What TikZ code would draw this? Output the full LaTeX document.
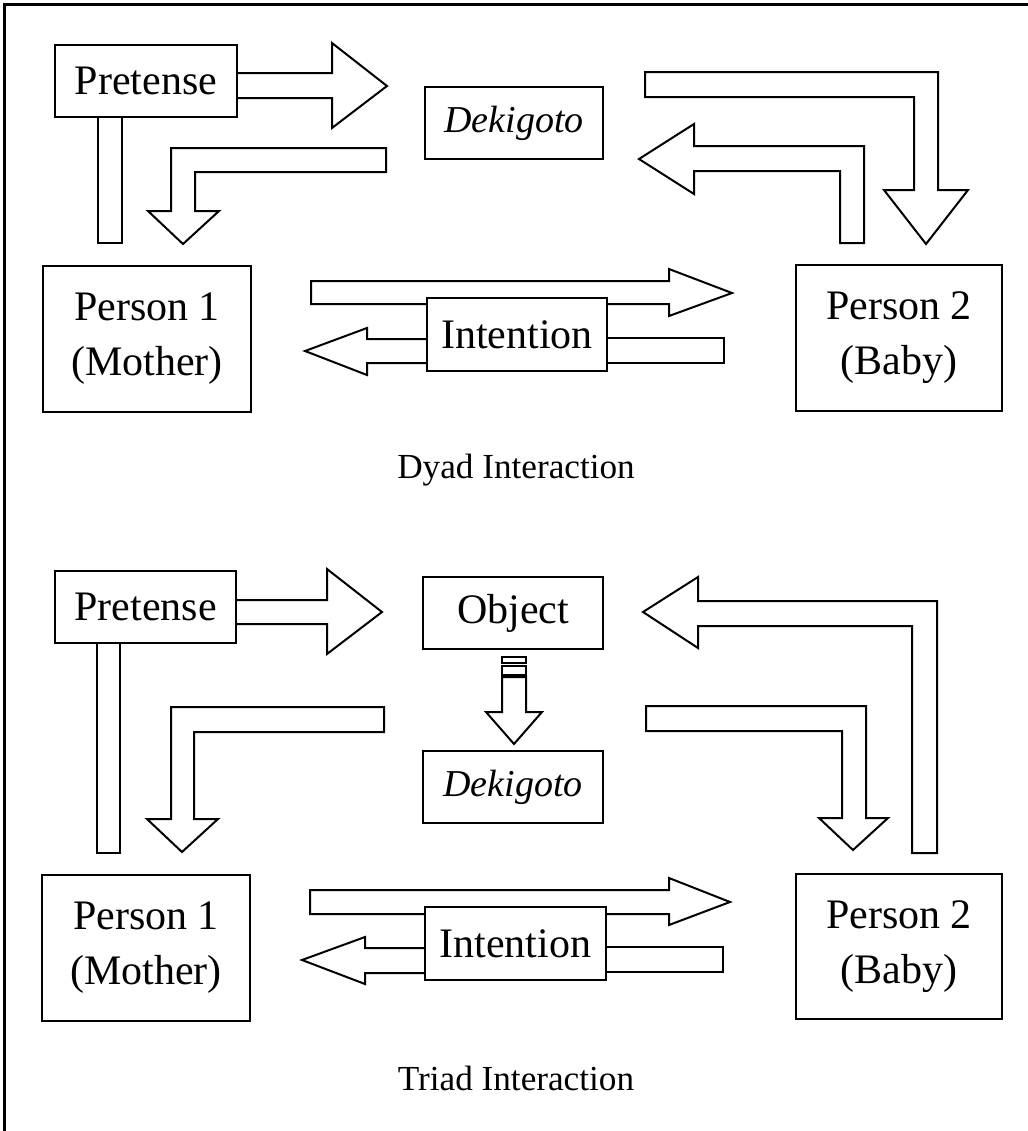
\documentclass[tikz,border=0pt]{standalone}
\usepackage{fontspec}
\setmainfont{Liberation Serif}
\usepackage{tikz}
\usetikzlibrary{calc, positioning}

\begin{document}
\begin{tikzpicture}[
  x=0.5pt, y=-0.5pt,
  box/.style={
    draw,
    fill=white,
    line width=1pt,
    inner sep=0pt,
    align=center,
    font=\fontsize{21}{27.5}\selectfont
    },
  blockarrow/.style={
    draw,
    fill=white,
    line width=1pt,
    line join=miter
    },
  caption/.style={font=\fontsize{17.6}{20}\selectfont}
]
\useasboundingbox (0,0) rectangle (1028,1131);

      % Frame
      \draw[line width=1.2pt] (4.5,1131) -- (4.5,4.5) -- (1028,4.5);

      % Dyad: block arrows
      \draw[blockarrow] (237,73) -- (332,73) -- (332,43) -- (387,86) -- (332,128) -- (332,98) -- (237,98);
      \draw[blockarrow] (98,117) rectangle (122,243);
      \draw[blockarrow] (386,148) -- (171,148) -- (171,211) -- (148,211) -- (183,244) -- (219,211) -- (195,211) -- (195,172) -- (386,172) -- cycle;
      \draw[blockarrow] (645,72) -- (938,72) -- (938,190) -- (968,190) -- (926,244) -- (884,190) -- (914,190) -- (914,97) -- (645,97) -- cycle;
      \draw[blockarrow] (864,243) -- (864,146) -- (694,146) -- (694,124) -- (639,159) -- (694,194) -- (694,171) -- (840,171) -- (840,243) -- cycle;
      \draw[blockarrow] (311,281) -- (669,281) -- (669,269) -- (732,293) -- (669,316) -- (669,304) -- (311,304) -- cycle;
      \draw[blockarrow] (427,339) -- (367,339) -- (367,328) -- (305,351) -- (367,375) -- (367,363) -- (427,363);
      \draw[blockarrow] (600,338) rectangle (724,363);

      % Dyad: boxes
      \node[box, minimum width=91pt, minimum height=36pt] (pre1) at (146,81) {Pretense};
      \node[box, minimum width=89pt, minimum height=36pt, font=\fontsize{19}{24}\selectfont\itshape] (dek1) at (514,123) {Dekigoto};
      \node[box, minimum width=104pt, minimum height=73pt] (per1a) at (147,339) {Person 1\\(Mother)};
      \node[box, minimum width=103pt, minimum height=73pt] (per2a) at (899,338) {Person 2\\(Baby)};
      \node[box, minimum width=90pt, minimum height=36.5pt] (int1) at (517,334.5) {Intention};
      \node[caption] (dyad) at (516,470) {Dyad Interaction};

      % Triad: block arrows
      \draw[blockarrow] (236,600) -- (327,600) -- (327,569) -- (382,612) -- (327,654) -- (327,624) -- (236,624);
      \draw[blockarrow] (97,643) rectangle (120,853);
      \draw[blockarrow] (384,707) -- (171,707) -- (171,819) -- (147,819) -- (182,852) -- (218,819) -- (194,819) -- (194,732) -- (384,732) -- cycle;
      \draw[blockarrow] (502,657) rectangle (526,663);
      \draw[blockarrow] (502,666) rectangle (526,675);
      \draw[blockarrow] (502,677) -- (526,677) -- (526,712) -- (542,712) -- (514,744) -- (486,712) -- (502,712) -- cycle;
      \draw[blockarrow] (937,853) -- (937,601) -- (698,601) -- (698,577) -- (643,612) -- (698,648) -- (698,626) -- (912,626) -- (912,853) -- cycle;
      \draw[blockarrow] (646,706) -- (866,706) -- (866,818) -- (888,818) -- (853,850) -- (819,818) -- (842,818) -- (842,731) -- (646,731) -- cycle;
      \draw[blockarrow] (310,890) -- (669,890) -- (669,878) -- (730,902) -- (669,925) -- (669,914) -- (310,914) -- cycle;
      \draw[blockarrow] (425,948) -- (365,948) -- (365,937) -- (302,960) -- (365,984) -- (365,973) -- (425,973);
      \draw[blockarrow] (600,947) rectangle (723,972);

      % Triad: boxes
      \node[box, minimum width=90.5pt, minimum height=36pt] (pre2) at (145.5,607) {Pretense};
      \node[box, minimum width=90pt, minimum height=36pt] (obj) at (513,613) {Object};
      \node[box, minimum width=90pt, minimum height=36pt, font=\fontsize{19}{24}\selectfont\itshape] (dek2) at (513,787) {Dekigoto};
      \node[box, minimum width=104pt, minimum height=73pt] (per1b) at (146,948) {Person 1\\(Mother)};
      \node[box, minimum width=103pt, minimum height=72.5pt] (per2b) at (899,946.5) {Person 2\\(Baby)};
      \node[box, minimum width=90.5pt, minimum height=36.5pt] (int2) at (515.5,943.5) {Intention};
      \node[caption] (triad) at (516,1078) {Triad Interaction};

\end{tikzpicture}
\end{document}
